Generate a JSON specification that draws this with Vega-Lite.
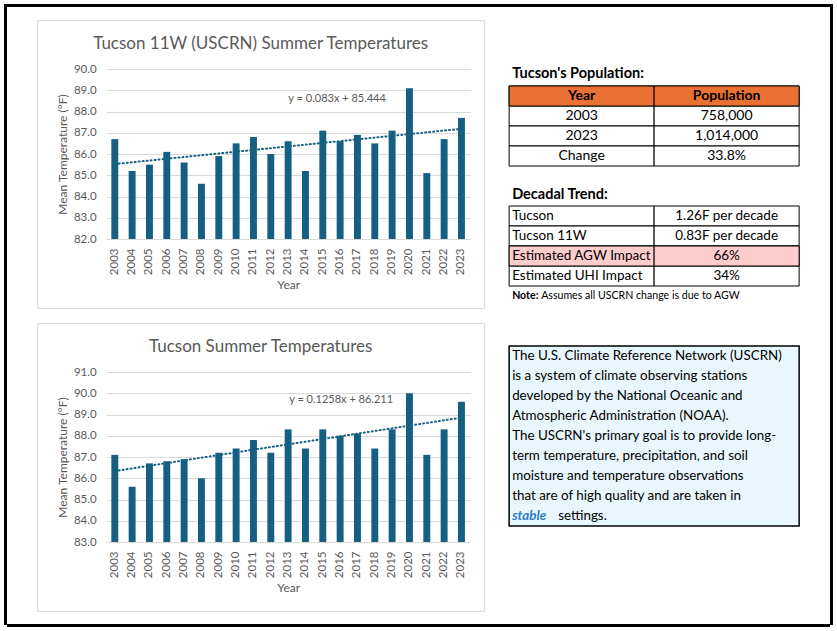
{
  "$schema": "https://vega.github.io/schema/vega-lite/v6.json",
  "background": "white",
  "padding": {"left": 4, "top": 4, "right": 0, "bottom": 0},
  "spacing": 0,
  "datasets": {
    "uscrn": [
      {"year": 2003, "temp": 86.7}, {"year": 2004, "temp": 85.2}, {"year": 2005, "temp": 85.5},
      {"year": 2006, "temp": 86.1}, {"year": 2007, "temp": 85.6}, {"year": 2008, "temp": 84.6},
      {"year": 2009, "temp": 85.9}, {"year": 2010, "temp": 86.5}, {"year": 2011, "temp": 86.8},
      {"year": 2012, "temp": 86.0}, {"year": 2013, "temp": 86.6}, {"year": 2014, "temp": 85.2},
      {"year": 2015, "temp": 87.1}, {"year": 2016, "temp": 86.6}, {"year": 2017, "temp": 86.9},
      {"year": 2018, "temp": 86.5}, {"year": 2019, "temp": 87.1}, {"year": 2020, "temp": 89.1},
      {"year": 2021, "temp": 85.1}, {"year": 2022, "temp": 86.7}, {"year": 2023, "temp": 87.7}
    ],
    "tucson": [
      {"year": 2003, "temp": 87.1}, {"year": 2004, "temp": 85.6}, {"year": 2005, "temp": 86.7},
      {"year": 2006, "temp": 86.8}, {"year": 2007, "temp": 86.9}, {"year": 2008, "temp": 86.0},
      {"year": 2009, "temp": 87.2}, {"year": 2010, "temp": 87.4}, {"year": 2011, "temp": 87.8},
      {"year": 2012, "temp": 87.2}, {"year": 2013, "temp": 88.3}, {"year": 2014, "temp": 87.4},
      {"year": 2015, "temp": 88.3}, {"year": 2016, "temp": 88.0}, {"year": 2017, "temp": 88.1},
      {"year": 2018, "temp": 87.4}, {"year": 2019, "temp": 88.3}, {"year": 2020, "temp": 90.0},
      {"year": 2021, "temp": 87.1}, {"year": 2022, "temp": 88.3}, {"year": 2023, "temp": 89.6}
    ],
    "pop": [
      {"row": 1, "col": "A", "text": "Year"}, {"row": 1, "col": "B", "text": "Population"},
      {"row": 2, "col": "A", "text": "2003"}, {"row": 2, "col": "B", "text": "758,000"},
      {"row": 3, "col": "A", "text": "2023"}, {"row": 3, "col": "B", "text": "1,014,000"},
      {"row": 4, "col": "A", "text": "Change"}, {"row": 4, "col": "B", "text": "33.8%"}
    ],
    "dec": [
      {"row": 1, "col": "A", "text": "Tucson"}, {"row": 1, "col": "B", "text": "1.26F per decade"},
      {"row": 2, "col": "A", "text": "Tucson 11W"}, {"row": 2, "col": "B", "text": "0.83F per decade"},
      {"row": 3, "col": "A", "text": "Estimated AGW Impact"}, {"row": 3, "col": "B", "text": "66%"},
      {"row": 4, "col": "A", "text": "Estimated UHI Impact"}, {"row": 4, "col": "B", "text": "34%"}
    ],
    "blurb": [
      {"line": 1, "text": "The U.S. Climate Reference Network (USCRN)"},
      {"line": 2, "text": "is a system of climate observing stations"},
      {"line": 3, "text": "developed by the National Oceanic and"},
      {"line": 4, "text": "Atmospheric Administration (NOAA)."},
      {"line": 5, "text": "The USCRN's primary goal is to provide long-"},
      {"line": 6, "text": "term temperature, precipitation, and soil"},
      {"line": 7, "text": "moisture and temperature observations"},
      {"line": 8, "text": "that are of high quality and are taken in"},
      {"line": 9, "text": "stable"},
      {"line": 9, "text": "settings."}
    ]
  },
  "hconcat": [
    {
      "width": 3, "height": 621,
      "view": {"stroke": null, "fill": "black"},
      "data": {"values": []},
      "mark": {"type": "text", "text": ""},
      "encoding": {}
    },
    {
      "spacing": 12,
      "center": true,
      "vconcat": [
        {
          "width": 823, "height": 3,
          "view": {"stroke": null, "fill": "black"},
          "data": {"values": []},
          "mark": {"type": "text", "text": ""},
          "encoding": {}
        },
        {
          "spacing": 23,
          "hconcat": [
            {
              "spacing": 13,
              "vconcat": [
                {
                  "width": 447,
                  "height": 288,
                  "view": {"stroke": "#D9D9D9", "strokeWidth": 1},
                  "title": {"text": "Tucson 11W (USCRN) Summer Temperatures", "frame": "group", "anchor": "middle", "offset": -24, "dy": 17, "baseline": "middle", "fontSize": 17, "fontWeight": "normal", "color": "#595959"},
                  "data": {"name": "uscrn"},
                  "layer": [
                    {
                      "mark": {"type": "bar", "color": "#156082"},
                      "encoding": {
                        "x": {"field": "year", "type": "ordinal",
                          "scale": {"range": [69, 433], "paddingInner": 0.6, "paddingOuter": 0.3},
                          "axis": {"orient": "bottom", "offset": -69, "title": "Year", "labelAngle": 270, "labelPadding": 9, "titlePadding": 5, "grid": false, "labelOverlap": false}},
                        "y": {"field": "temp", "type": "quantitative",
                          "scale": {"domain": [82, 90], "range": [219, 49], "zero": false, "nice": false},
                          "axis": {"orient": "left", "offset": -69, "title": "Mean Temperature (°F)", "values": [82, 83, 84, 85, 86, 87, 88, 89, 90], "tickCount": 20, "format": ".1f", "grid": true, "gridColor": "#D9D9D9", "labelPadding": 10, "titlePadding": 4, "labelOverlap": false, "labelFlush": false, "labelBound": false}},
                        "y2": {"datum": 82}
                      }
                    },
                    {
                      "transform": [{"regression": "temp", "on": "year"}],
                      "mark": {"type": "line", "color": "#156082", "strokeWidth": 2, "strokeDash": [1, 3], "strokeCap": "round"},
                      "encoding": {
                        "x": {"field": "year", "type": "ordinal"},
                        "y": {"field": "temp", "type": "quantitative"}
                      }
                    },
                    {
                      "data": {"values": [{"year": 2016, "temp": 88.6, "label": "y = 0.083x + 85.444"}]},
                      "mark": {"type": "text", "fontSize": 11, "color": "#595959", "dx": -3},
                      "encoding": {
                        "x": {"field": "year", "type": "ordinal"},
                        "y": {"field": "temp", "type": "quantitative"},
                        "text": {"field": "label"}
                      }
                    }
                  ]
                },
                {
                  "width": 447,
                  "height": 288,
                  "view": {"stroke": "#D9D9D9", "strokeWidth": 1},
                  "title": {"text": "Tucson Summer Temperatures", "frame": "group", "anchor": "middle", "offset": -24, "dy": 17, "baseline": "middle", "fontSize": 17, "fontWeight": "normal", "color": "#595959"},
                  "data": {"name": "tucson"},
                  "layer": [
                    {
                      "mark": {"type": "bar", "color": "#156082"},
                      "encoding": {
                        "x": {"field": "year", "type": "ordinal",
                          "scale": {"range": [69, 433], "paddingInner": 0.6, "paddingOuter": 0.3},
                          "axis": {"orient": "bottom", "offset": -69, "title": "Year", "labelAngle": 270, "labelPadding": 9, "titlePadding": 5, "grid": false, "labelOverlap": false}},
                        "y": {"field": "temp", "type": "quantitative",
                          "scale": {"domain": [83, 91], "range": [219, 49], "zero": false, "nice": false},
                          "axis": {"orient": "left", "offset": -69, "title": "Mean Temperature (°F)", "values": [83, 84, 85, 86, 87, 88, 89, 90, 91], "tickCount": 20, "format": ".1f", "grid": true, "gridColor": "#D9D9D9", "labelPadding": 10, "titlePadding": 4, "labelOverlap": false, "labelFlush": false, "labelBound": false}},
                        "y2": {"datum": 83}
                      }
                    },
                    {
                      "transform": [{"regression": "temp", "on": "year"}],
                      "mark": {"type": "line", "color": "#156082", "strokeWidth": 2, "strokeDash": [1, 3], "strokeCap": "round"},
                      "encoding": {
                        "x": {"field": "year", "type": "ordinal"},
                        "y": {"field": "temp", "type": "quantitative"}
                      }
                    },
                    {
                      "data": {"values": [{"year": 2016, "temp": 89.7, "label": "y = 0.1258x + 86.211"}]},
                      "mark": {"type": "text", "fontSize": 11, "color": "#595959", "dx": 1},
                      "encoding": {
                        "x": {"field": "year", "type": "ordinal"},
                        "y": {"field": "temp", "type": "quantitative"},
                        "text": {"field": "label"}
                      }
                    }
                  ]
                }
              ]
            },
            {
              "spacing": 40,
              "bounds": "flush",
              "vconcat": [
                {
                  "width": 290,
                  "height": 26,
                  "view": {"stroke": null},
                  "data": {"values": []},
                  "mark": {"type": "text", "text": ""},
                  "encoding": {}
                },
                {
                  "width": 290,
                  "height": 80,
                  "view": {"stroke": null},
                  "title": {"text": "Tucson's Population:", "frame": "group", "anchor": "start", "offset": 7, "dy": 14, "baseline": "alphabetic", "fontSize": 14.5, "fontWeight": "bold", "color": "black", "dx": 3},
                  "data": {"name": "pop"},
                  "encoding": {
                    "x": {"field": "col", "type": "nominal", "scale": {"type": "band", "paddingInner": 0, "paddingOuter": 0}, "axis": null},
                    "y": {"field": "row", "type": "ordinal", "scale": {"type": "band", "paddingInner": 0, "paddingOuter": 0}, "axis": null}
                  },
                  "layer": [
                    {"mark": {"type": "rect", "fill": "white", "stroke": "black", "strokeWidth": 1}},
                    {"transform": [{"filter": "datum.row == 1"}], "mark": {"type": "rect", "fill": "#E97132", "stroke": "black", "strokeWidth": 1}},
                    {"transform": [{"filter": "datum.row == 1"}], "mark": {"type": "text", "fontSize": 14, "fontWeight": "bold", "color": "black", "baseline": "middle"}, "encoding": {"text": {"field": "text"}}},
                    {"transform": [{"filter": "datum.row > 1"}], "mark": {"type": "text", "fontSize": 14, "color": "black", "baseline": "middle"}, "encoding": {"text": {"field": "text"}}}
                  ]
                },
                {
                  "width": 290,
                  "height": 100,
                  "view": {"stroke": null},
                  "title": {"text": "Decadal Trend:", "frame": "group", "anchor": "start", "offset": 6, "dy": 14, "baseline": "alphabetic", "fontSize": 14.5, "fontWeight": "bold", "color": "black", "dx": 3},
                  "encoding": {
                    "x": {"field": "col", "type": "nominal", "scale": {"type": "band", "paddingInner": 0, "paddingOuter": 0}, "axis": null},
                    "y": {"field": "row", "type": "ordinal", "scale": {"type": "band", "paddingInner": 0, "paddingOuter": 0}, "axis": null}
                  },
                  "layer": [
                    {"data": {"name": "dec"}, "mark": {"type": "rect", "fill": "white", "stroke": "black", "strokeWidth": 1}},
                    {"data": {"name": "dec"}, "transform": [{"filter": "datum.row == 3"}], "mark": {"type": "rect", "fill": "#FFCCCC", "stroke": "black", "strokeWidth": 1}},
                    {"data": {"name": "dec"}, "transform": [{"filter": "datum.col == 'A'"}], "mark": {"type": "text", "fontSize": 13.5, "color": "black", "align": "left", "baseline": "middle", "dx": 3}, "encoding": {"x": {"field": "col", "type": "nominal", "bandPosition": 0}, "text": {"field": "text"}}},
                    {"data": {"name": "dec"}, "transform": [{"filter": "datum.col == 'B'"}], "mark": {"type": "text", "fontSize": 13.5, "color": "black", "baseline": "middle"}, "encoding": {"text": {"field": "text"}}},
                    {"data": {"values": [{"row": 5, "col": "A", "label": "Note:", "text": "Assumes all USCRN change is due to AGW"}]},
                      "mark": {"type": "text", "fontSize": 10.6, "fontWeight": "bold", "color": "black", "align": "left", "baseline": "middle", "dx": 3},
                      "encoding": {"x": {"field": "col", "type": "nominal", "bandPosition": 0}, "text": {"field": "label"}}},
                    {"data": {"values": [{"row": 5, "col": "A", "label": "Note:", "text": "Assumes all USCRN change is due to AGW"}]},
                      "mark": {"type": "text", "fontSize": 10.6, "color": "black", "align": "left", "baseline": "middle", "dx": 32},
                      "encoding": {"x": {"field": "col", "type": "nominal", "bandPosition": 0}, "text": {"field": "text"}}}
                  ]
                },
                {
                  "width": 290,
                  "height": 180,
                  "view": {"stroke": "black", "strokeWidth": 1.5, "fill": "#E8F7FD"},
                  "data": {"name": "blurb"},
                  "encoding": {
                    "x": {"datum": "box", "type": "nominal", "scale": {"type": "band", "paddingInner": 0, "paddingOuter": 0}, "axis": null, "bandPosition": 0},
                    "y": {"field": "line", "type": "ordinal", "scale": {"type": "band", "paddingInner": 0, "paddingOuter": 0}, "axis": null},
                    "text": {"field": "text"}
                  },
                  "layer": [
                    {"transform": [{"filter": "datum.text != 'stable' && datum.text != 'settings.'"}], "mark": {"type": "text", "fontSize": 13.4, "color": "black", "align": "left", "baseline": "middle", "dx": 3}},
                    {"transform": [{"filter": "datum.text == 'stable'"}], "mark": {"type": "text", "fontSize": 13.4, "fontWeight": "bold", "fontStyle": "italic", "color": "#2B7BC4", "align": "left", "baseline": "middle", "dx": 3}},
                    {"transform": [{"filter": "datum.text == 'settings.'"}], "mark": {"type": "text", "fontSize": 13.4, "color": "black", "align": "left", "baseline": "middle", "dx": 49}}
                  ]
                }
              ]
            }
          ]
        },
        {
          "width": 823, "height": 3,
          "view": {"stroke": null, "fill": "black"},
          "data": {"values": []},
          "mark": {"type": "text", "text": ""},
          "encoding": {}
        }
      ]
    },
    {
      "width": 3, "height": 621,
      "view": {"stroke": null, "fill": "black"},
      "data": {"values": []},
      "mark": {"type": "text", "text": ""},
      "encoding": {}
    }
  ],
  "config": {
    "font": "Lato",
    "view": {"stroke": null},
    "text": {"font": "Lato"},
    "title": {"font": "Lato"},
    "axis": {
      "labelFont": "Lato", "titleFont": "Lato",
      "labelColor": "#595959", "titleColor": "#595959",
      "labelFontSize": 11.5, "titleFontSize": 12, "titleFontWeight": "normal",
      "ticks": false, "tickSize": 0, "domain": false, "labelOverlap": false
    }
  }
}
